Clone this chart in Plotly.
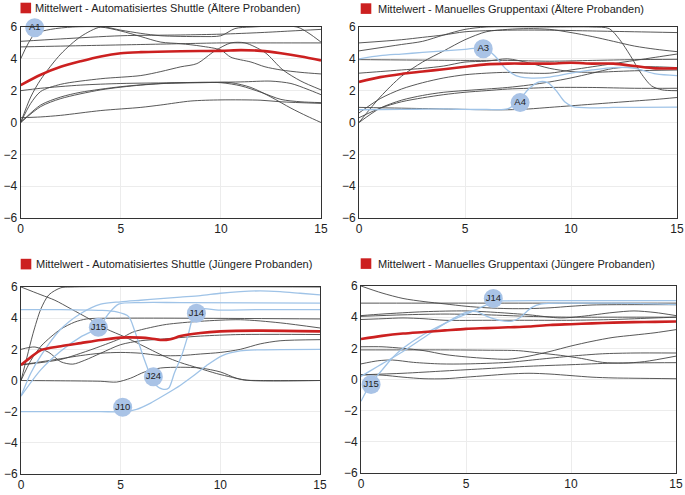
import plotly.graph_objects as go

# ---------------- data ----------------
X_TICKS = [0, 5, 10, 15]
Y_TICKS = [-6, -4, -2, 0, 2, 4, 6]

TITLES = [
    "Mittelwert - Automatisiertes Shuttle (Ältere Probanden)",
    "Mittelwert - Manuelles Gruppentaxi (Ältere Probanden)",
    "Mittelwert - Automatisiertes Shuttle (Jüngere Probanden)",
    "Mittelwert - Manuelles Gruppentaxi (Jüngere Probanden)",
]

# Panel 1: Automatisiertes Shuttle (Ältere)
tl_mean = [(0, 2.35), (1, 3.0), (2, 3.5), (3, 3.85), (4, 4.15), (5, 4.35), (6, 4.42), (8, 4.48), (10, 4.5),
           (11, 4.55), (12, 4.5), (13, 4.35), (14, 4.15), (15, 3.9)]
tl_g1 = [(0, 5.1), (2, 5.25), (5, 5.45), (8, 5.5), (10, 5.55), (12, 5.65), (13.5, 5.75), (15, 5.85)]
tl_g2 = [(0, 4.75), (2, 4.8), (4, 4.85), (6, 4.9), (8, 4.95), (10, 5.0), (12, 5.0), (15, 5.0)]
tl_a1 = [(0, 4.0), (0.7, 5.55), (1.5, 5.85), (2.6, 6.0), (4, 6.0), (5, 5.75), (6, 5.4), (7, 5.05), (8, 4.95),
         (9, 4.8), (10, 4.55), (10.5, 4.1), (11.5, 3.8), (12.2, 3.5), (13, 3.3), (14, 3.15), (15, 3.05)]
tl_b = [(0, 0), (0.5, 1.6), (1, 2.7), (2, 4.3), (3, 5.4), (4, 6.0), (5, 5.8), (6, 5.6), (7, 5.45), (9, 5.4),
        (10, 5.45), (10.7, 5.9), (11.5, 6.0), (13.8, 6.0), (14.4, 5.6), (15, 5.05)]
tl_d = [(0, 0), (0.5, 1.2), (1, 1.95), (2, 2.4), (4, 2.75), (6, 2.95), (7, 3.2), (8, 3.5), (8.8, 3.7), (9.7, 4.5),
        (10.5, 5.0), (11.2, 5.0), (12.2, 4.4), (13.1, 3.3), (14, 2.6), (15, 2.05)]
tl_e = [(0, 2.0), (1, 2.15), (3, 2.35), (5, 2.45), (8, 2.5), (11, 2.55), (12.5, 2.6), (13.5, 2.45), (14.3, 2.1),
        (15, 1.75)]
tl_f = [(0, 0), (1, 1.0), (2, 1.5), (4, 2.05), (6, 2.35), (8, 2.5), (10, 2.5), (11, 2.3), (12, 1.9), (13, 1.45),
        (14, 1.3), (15, 1.25)]
tl_g = [(0, 0), (1, 1.1), (2, 1.6), (3, 1.9), (5, 2.25), (7, 2.45), (9, 2.5), (10.5, 2.5), (11.5, 2.2),
        (12.5, 1.6), (13.5, 0.9), (14.3, 0.4), (15, 0.0)]
tl_h = [(0, 0.3), (1, 0.35), (2, 0.45), (4, 0.75), (6, 0.95), (7, 1.1), (8.5, 1.35), (10, 1.42), (12, 1.4),
        (13, 1.3), (15, 1.2)]
tl_labels = ["A1"]
tl_label_pts = [(0.7, 5.95)]

# Panel 2: Manuelles Gruppentaxi (Ältere)
tr_mean = [(0, 2.55), (1, 2.85), (2, 3.05), (3, 3.2), (4, 3.35), (5, 3.5), (6, 3.65), (7, 3.7), (8, 3.7), (9, 3.7),
           (10, 3.75), (11, 3.7), (12, 3.7), (13, 3.55), (14, 3.4), (15, 3.4)]
tr_1 = [(0, 5.0), (2, 5.2), (3, 5.35), (4, 5.5), (5, 5.7), (7, 5.8), (9, 5.8), (11, 5.75), (13, 5.7), (15, 5.65)]
tr_2 = [(0, 4.5), (2, 4.9), (3, 5.1), (4, 5.5), (5, 5.85), (6, 6.0), (9, 6.0), (11, 6.0), (11.8, 5.9), (12.3, 5.2),
        (12.8, 4.2), (13.3, 3.1), (13.8, 2.3), (14.3, 2.05), (15, 2.0)]
tr_3 = [(0, 0), (1, 1.6), (2, 2.9), (3, 3.8), (4, 4.5), (5, 5.2), (6, 5.7), (7, 5.85), (8, 5.9), (9, 5.85),
        (10, 5.65), (11, 5.4), (12, 5.1), (13, 4.8), (14, 4.6), (15, 4.45)]
tr_4 = [(0, 3.1), (1, 3.2), (2, 3.3), (3, 3.4), (4, 3.55), (5, 3.8), (6, 3.85), (7, 4.0), (8, 3.75), (9, 3.4),
        (10, 3.2), (11, 3.15), (12, 3.2), (13, 3.25), (15, 3.3)]
tr_5 = [(0, 3.95), (3, 3.92), (5, 3.9), (7, 3.9), (9, 3.85), (11, 3.9), (13, 3.95), (15, 3.97)]
tr_6 = [(0, 0.6), (1, 1.5), (2, 2.1), (3, 2.5), (4, 2.8), (5, 3.0), (6, 3.1), (7, 3.15), (8, 3.1), (9, 3.1),
        (10, 3.3), (11, 3.5), (12, 3.7), (13, 3.9), (14, 4.1), (15, 4.3)]
tr_7 = [(0, 0.3), (1, 0.9), (2, 1.3), (3, 1.55), (4, 1.75), (5, 1.9), (6, 2.0), (7, 2.1), (8, 2.15), (9, 2.2),
        (11, 2.2), (13, 2.15), (15, 2.15)]
tr_8 = [(0, 0), (1, 0.9), (2, 1.4), (3, 1.7), (4, 1.9), (6, 2.1), (7, 2.2), (8, 2.35), (9, 2.55), (10, 2.8),
        (11, 3.1), (12, 3.4), (13, 3.5), (14, 3.5), (15, 3.45)]
tr_9 = [(0, 0.95), (2, 0.9), (4, 0.85), (6, 0.8), (7, 0.8), (8, 0.85), (9, 0.95), (10, 1.05), (11, 1.15),
        (12, 1.25), (13, 1.35), (14, 1.45), (15, 1.57)]
tr_a3 = [(0, 4.0), (1, 4.2), (2, 4.3), (3, 4.4), (4, 4.5), (5, 4.6), (5.9, 4.67), (6.4, 4.2), (6.9, 3.4),
         (7.4, 2.95), (8, 2.8), (9, 2.85), (10, 3.1), (11, 3.3), (12, 3.45), (13, 3.4), (14, 3.05), (15, 2.95)]
tr_a4 = [(0, 0.8), (2, 0.82), (4, 0.85), (5, 0.82), (6, 0.82), (7, 0.85), (7.5, 1.3), (8, 2.1), (8.5, 2.55),
         (8.9, 2.5), (9.3, 2.0), (9.7, 1.3), (10.1, 1.0), (11, 0.92), (12, 0.95), (13, 0.95), (15, 0.96)]
tr_labels = ["A3", "A4"]
tr_label_pts = [(5.86, 4.63), (7.6, 1.25)]

# Panel 3: Automatisiertes Shuttle (Jüngere)
bl_mean = [(0, 1.0), (0.5, 1.5), (1, 1.95), (2, 2.2), (3, 2.4), (4, 2.6), (5, 2.75), (6, 2.75), (6.5, 2.7),
           (7, 2.6), (7.5, 2.65), (8, 2.85), (9, 3.05), (10, 3.15), (12, 3.2), (15, 3.15)]
bl_k1 = [(0, 6.0), (1, 5.5), (1.7, 5.15), (2.5, 4.6), (3.5, 3.9), (4.3, 3.3), (5.2, 2.8), (6, 2.3), (7.2, 1.55),
         (8, 1.15), (8.9, 0.8), (9.8, 0.45), (10.6, 0.2), (11.2, 0.03), (12, 0), (15, 0)]
bl_k2 = [(0, 0), (0.3, 1.5), (0.6, 3.0), (1, 4.6), (1.4, 5.5), (2, 5.95), (2.5, 6.0), (15, 6.0)]
bl_k3 = [(0, 0), (0.5, 1.3), (1, 2.2), (1.5, 2.8), (2, 3.3), (2.7, 3.75), (3.3, 3.95), (5, 4.0), (15, 3.95)]
bl_k4 = [(0, 1.0), (1, 1.15), (2, 1.35), (3, 1.75), (4, 2.2), (5, 2.7), (5.6, 3.1), (6.5, 3.4), (7.3, 3.6),
         (9, 3.8), (11, 3.9), (13, 3.7), (15, 3.37)]
bl_k5 = [(0, 2.0), (0.7, 2.15), (1.4, 1.8), (2, 1.2), (2.6, 1.05), (3.2, 1.3), (4, 1.75), (5, 2.3), (6, 2.55),
         (7, 2.65), (9, 2.85), (11, 2.95), (15, 2.95)]
bl_k6 = [(0, 1.0), (1, 1.2), (2, 1.4), (3, 1.6), (4, 1.75), (5, 1.8), (6, 1.75), (7, 1.6), (8, 1.6), (9, 1.7),
         (10, 1.8), (11, 2.0), (12, 2.35), (13, 2.55), (15, 2.62)]
bl_k7 = [(0, 0), (2, -0.02), (4, -0.05), (4.8, -0.1), (5.5, 0.15), (6.2, 0.55), (7, 0.8), (8, 0.85), (9, 0.8),
         (10, 0.55), (10.8, 0.15), (11.5, 0), (15, 0)]
bl_j15 = [(0, -1.0), (1, 0.7), (2, 1.9), (3, 2.8), (3.9, 3.4), (4.4, 4.3), (4.9, 4.9), (6, 5.0), (8, 5.0),
          (15, 4.97)]
bl_top = [(0, -1.0), (0.5, 0.5), (1, 1.6), (2, 3.3), (3, 4.3), (4, 4.9), (5, 5.05), (6, 5.15), (7, 5.25),
          (8, 5.35), (9, 5.45), (10, 5.6), (11, 5.7), (12, 5.75), (13, 5.7), (14, 5.6), (15, 5.5)]
bl_j24 = [(0, 4.55), (2, 4.55), (4, 4.5), (4.8, 4.4), (5.4, 4.1), (5.7, 3.2), (6.2, 1.3), (6.7, -0.2),
          (7.1, -0.55), (7.4, -0.5), (7.7, 0.5), (8.06, 1.6), (8.4, 3.0), (8.7, 4.3), (9.1, 4.6), (9.9, 4.52),
          (12, 4.55), (15, 4.55)]
bl_j10 = [(0, -2.0), (2, -2.0), (4, -2.0), (5.1, -2.0), (5.8, -1.85), (6.5, -1.45), (7.2, -0.93), (8, -0.3),
          (8.6, 0.25), (9.3, 0.95), (10.1, 1.6), (11, 1.9), (12, 1.97), (15, 2.0)]
bl_labels = ["J15", "J14", "J24", "J10"]
bl_label_pts = [(3.88, 3.41), (8.8, 4.31), (6.64, 0.24), (5.1, -1.72)]

# Panel 4: Manuelles Gruppentaxi (Jüngere)
br_mean = [(0, 2.6), (1, 2.8), (2, 2.95), (3, 3.05), (4, 3.15), (5, 3.25), (6, 3.3), (7, 3.35), (8, 3.4), (9, 3.5),
           (10, 3.55), (11, 3.6), (12, 3.65), (13, 3.68), (14, 3.7), (15, 3.72)]
br_1 = [(0, 6.0), (1, 5.55), (2, 5.2), (3, 5.0), (4, 4.85), (5, 4.7), (6, 4.6), (7, 4.55), (8, 4.55), (9, 4.6),
        (10, 4.7), (11, 4.78), (12, 4.8), (15, 4.8)]
br_2 = [(0, 4.9), (5, 4.9), (10, 4.9), (15, 4.9)]
br_3 = [(0, 4.1), (1, 4.2), (3, 4.35), (5, 4.4), (6.5, 4.3), (8, 4.15), (9.5, 3.95), (10.5, 4.05), (12, 4.3),
        (13, 4.4), (14, 4.3), (15, 4.1)]
br_4 = [(0, 4.05), (2, 4.15), (4, 4.2), (6, 4.15), (8, 4.05), (10, 4.0), (12, 4.0), (15, 4.0)]
br_5 = [(0, 3.85), (1, 3.9), (2, 3.95), (3, 3.9), (4, 3.8), (6, 3.8), (8, 3.8), (10, 3.8), (12, 3.85), (14, 3.95),
        (15, 4.0)]
br_6 = [(0, 2.1), (1, 2.1), (2, 2.0), (3, 1.85), (4, 1.6), (5, 1.45), (6, 1.35), (7, 1.3), (8, 1.5), (9, 1.8),
        (10, 2.15), (11, 2.45), (12, 2.7), (13, 2.85), (14, 3.0), (15, 3.2)]
br_7 = [(0, 1.9), (2, 1.9), (4, 1.9), (6, 1.88), (7.5, 1.85), (8.5, 1.7), (9.5, 1.55), (10.5, 1.35), (11.5, 1.1),
        (12.5, 1.05), (13.5, 1.15), (15, 1.5)]
br_8 = [(0, 1.0), (0.8, 1.2), (1.5, 1.25), (2.5, 1.1), (3.8, 1.0), (5, 1.0), (7, 1.1), (8.5, 1.3), (10, 1.5),
        (11.5, 1.65), (13, 1.7), (15, 1.7)]
br_9 = [(0, 0.3), (2, 0.4), (4, 0.55), (6, 0.7), (8, 0.85), (10, 0.95), (12, 1.05), (15, 1.08)]
br_10 = [(0, 0.3), (1, 0.28), (2, 0.15), (3, 0.05), (4, 0.05), (5, 0.15), (6, 0.25), (7, 0.35), (8, 0.4),
         (9, 0.35), (10, 0.25), (11, 0.15), (12, 0.1), (13, 0.08), (15, 0.05)]
br_j15 = [(0, -1.4), (0.45, -0.3), (1, 0.6), (1.5, 1.4), (2, 2.0), (3, 2.9), (4, 3.6), (5, 4.2), (6, 4.8),
          (6.3, 5.0), (7, 5.05), (9, 5.06), (15, 5.06)]
br_j14 = [(0, 0.2), (0.5, 0.6), (1, 1.0), (2, 1.8), (3, 2.7), (4, 3.6), (5, 4.3), (5.5, 4.35), (6, 4.05),
          (6.6, 3.8), (7.2, 3.75), (7.6, 4.0), (8.1, 4.6), (8.6, 4.85), (10, 4.9), (12, 4.9), (14, 4.85),
          (15, 4.8)]
br_labels = ["J14", "J15"]
br_label_pts = [(6.3, 5.2), (0.48, -0.32)]

PANEL_DATA = [
    (tl_mean, [tl_g1, tl_g2, tl_a1, tl_b, tl_d, tl_e, tl_f, tl_g, tl_h], [], tl_labels, tl_label_pts),
    (tr_mean, [tr_1, tr_2, tr_3, tr_4, tr_5, tr_6, tr_7, tr_8, tr_9], [tr_a3, tr_a4], tr_labels, tr_label_pts),
    (bl_mean, [bl_k1, bl_k2, bl_k3, bl_k4, bl_k5, bl_k6, bl_k7], [bl_j15, bl_top, bl_j24, bl_j10], bl_labels,
     bl_label_pts),
    (br_mean, [br_1, br_2, br_3, br_4, br_5, br_6, br_7, br_8, br_9, br_10], [br_j15, br_j14], br_labels,
     br_label_pts),
]

# ---------------- layout (pixel geometry of the 685x495 window) ----------------
W, H = 685, 495


def fx(p):
    return p / W


def fy(p):
    return 1 - p / H


PLOT_BOX = [  # (left, right, top, bottom) in px
    (20.7, 321, 27, 218),
    (359, 677, 27, 218),
    (21, 320, 287, 474),
    (361, 676, 286, 473),
]
LEGEND_POS = [  # square left, square top, text left
    (20.5, 2.7, 33),
    (360.7, 3.3, 376),
    (20.7, 258.8, 33.5),
    (360.7, 258.3, 376),
]
SQ = 10.6

GRAY = "rgba(70,70,70,0.9)"
BLUE = "#9fc3e7"
RED = "#cc2020"
LABEL_FILL = "#a9c3e6"
FONT = "Liberation Sans, Arial, Helvetica, sans-serif"

fig = go.Figure()
layout = dict(
    width=W, height=H, margin=dict(l=0, r=0, t=0, b=0),
    paper_bgcolor="white", plot_bgcolor="white", showlegend=False,
    font=dict(family=FONT, size=12, color="#222"),
    shapes=[], annotations=[],
)

for i, (mean, grays, blues, labels, label_pts) in enumerate(PANEL_DATA):
    n = i + 1
    xa = "x" if n == 1 else f"x{n}"
    ya = "y" if n == 1 else f"y{n}"
    xkey = "xaxis" if n == 1 else f"xaxis{n}"
    ykey = "yaxis" if n == 1 else f"yaxis{n}"
    l, r, t, b = PLOT_BOX[i]
    layout[xkey] = dict(
        domain=[fx(l), fx(r)], anchor=ya, range=[0, 15], tickvals=X_TICKS,
        showgrid=True, gridcolor="#ececec", gridwidth=1, zeroline=False,
        showline=True, linecolor="#333", linewidth=1, mirror=True,
        ticks="", tickfont=dict(size=12, color="#222"), automargin=False,
        ticklabeloverflow="allow",
    )
    layout[ykey] = dict(
        domain=[fy(b), fy(t)], anchor=xa, range=[-6, 6], tickvals=Y_TICKS,
        showgrid=True, gridcolor="#ececec", gridwidth=1, zeroline=False,
        showline=True, linecolor="#333", linewidth=1, mirror=True,
        ticks="", tickfont=dict(size=12, color="#222"), automargin=False,
        ticklabeloverflow="allow",
    )
    for pts in grays:
        fig.add_trace(go.Scatter(
            x=[p[0] for p in pts], y=[p[1] for p in pts], mode="lines",
            line=dict(color=GRAY, width=1, shape="spline", smoothing=0.8),
            xaxis=xa, yaxis=ya, hoverinfo="skip"))
    for pts in blues:
        fig.add_trace(go.Scatter(
            x=[p[0] for p in pts], y=[p[1] for p in pts], mode="lines",
            line=dict(color=BLUE, width=1.3, shape="spline", smoothing=0.8),
            xaxis=xa, yaxis=ya, hoverinfo="skip"))
    fig.add_trace(go.Scatter(
        x=[p[0] for p in mean], y=[p[1] for p in mean], mode="lines",
        line=dict(color=RED, width=2.6, shape="spline", smoothing=0.8),
        xaxis=xa, yaxis=ya, hoverinfo="skip"))
    fig.add_trace(go.Scatter(
        x=[p[0] for p in label_pts], y=[p[1] for p in label_pts], text=labels,
        mode="markers+text", textposition="middle center",
        marker=dict(size=19, color=LABEL_FILL, line=dict(width=0)),
        textfont=dict(size=9.5, color="#222"), cliponaxis=False,
        xaxis=xa, yaxis=ya, hoverinfo="skip"))

    sx, sy, tx = LEGEND_POS[i]
    layout["shapes"].append(dict(
        type="rect", xref="paper", yref="paper",
        x0=fx(sx), x1=fx(sx + SQ), y0=fy(sy + SQ), y1=fy(sy),
        fillcolor=RED, line=dict(width=0)))
    layout["annotations"].append(dict(
        xref="paper", yref="paper", x=fx(tx), y=fy(sy + SQ / 2 + 0.3),
        xanchor="left", yanchor="middle", showarrow=False,
        text=TITLES[i], font=dict(size=11, color="#222", family=FONT)))

fig.update_layout(**layout)
fig.write_html(
    "out.html",
    config={"displayModeBar": False, "staticPlot": True},
    post_script="document.body.style.margin='0';document.body.style.overflow='hidden';",
)
